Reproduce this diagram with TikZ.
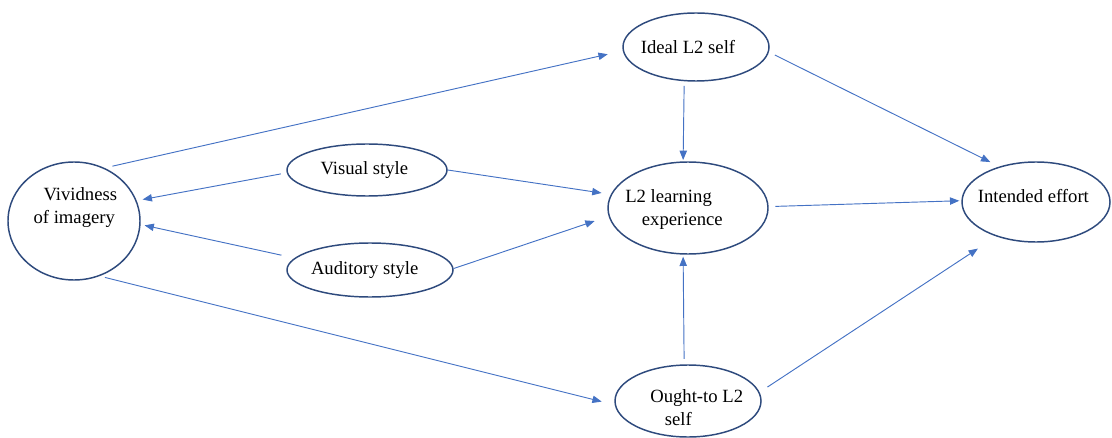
\documentclass[tikz,border=0pt]{standalone}
\usepackage{fontspec}
\setmainfont{Liberation Serif}
\usetikzlibrary{arrows.meta,shapes.geometric}
\definecolor{rim}{HTML}{2E4A7D}
\definecolor{wire}{HTML}{4472C4}
\tikzset{
  oval/.style={ellipse,draw=rim,line width=1.1pt,fill=white,inner sep=0pt},
  lbl/.style={font=\fontsize{14}{17}\selectfont,text=black,inner sep=0pt,align=left},
  ar/.style={-{Triangle[length=7pt,width=5.5pt]},draw=wire,line width=.7pt},
}
\begin{document}
\begin{tikzpicture}[x=0.75pt,y=-0.75pt]
\useasboundingbox (0,0) rectangle (1112,438);
\node[oval,minimum width=99pt,minimum height=88.5pt,label={[lbl,name=vivt,xshift=1pt,yshift=10pt]center:{\hspace*{7.5pt}Vividness\\of imagery}}] (viv) at (74,221) {};
\node[oval,minimum width=109.5pt,minimum height=51pt,label={[lbl,name=idealt,xshift=-6pt]center:{Ideal L2 self}}] (ideal) at (696,47) {};
\node[oval,minimum width=120pt,minimum height=69pt,label={[lbl,name=l2t,xshift=-10.5pt,yshift=-1pt]center:{L2 learning\\\hspace*{12.5pt}experience}}] (l2) at (688,208) {};
\node[oval,minimum width=111pt,minimum height=60pt,label={[lbl,name=efft,xshift=-2pt,yshift=4.5pt]center:{Intended effort}}] (eff) at (1036,202) {};
\node[oval,minimum width=109.5pt,minimum height=54pt,label={[lbl,name=oughtt,xshift=6.5pt,yshift=-5pt]center:{Ought-to L2\\\hspace*{11pt}self}}] (ought) at (688,401) {};
\node[oval,minimum width=120pt,minimum height=39pt,label={[lbl,name=vist,xshift=-2pt]center:{Visual style}}] (vis) at (367,170) {};
\node[oval,minimum width=124.5pt,minimum height=40.5pt,label={[lbl,name=audt,xshift=-4pt]center:{Auditory style}}] (aud) at (370,270) {};
\draw[ar,shorten <=6pt,shorten >=11.5pt] (viv.60) -- (ideal.183);
\draw[ar,shorten <=4.5pt,shorten >=4.5pt] (vis.182) -- (viv.18);
\draw[ar,shorten <=10pt,shorten >=3pt] (aud.171) -- (viv.-3);
\draw[ar,shorten <=4pt,shorten >=10pt] (viv.-65) -- (ought.183);
\draw[ar,shorten >=7pt] (vis.0) -- (l2.170);
\draw[ar,shorten >=11pt] (aud.1) -- (l2.186);
\draw[ar,shorten <=3.5pt,shorten >=1pt] (ideal.251) -- (l2.96);
\draw[ar,shorten <=4pt,shorten >=1.5pt] (ought.96) -- (l2.264);
\draw[ar,shorten <=5pt,shorten >=1.5pt] (l2.1) -- (eff.179);
\draw[ar,shorten <=5pt,shorten >=7.5pt] (ideal.-4) -- (eff.136);
\draw[ar,shorten <=7pt,shorten >=16.5pt] (ought.7) -- (eff.221);
\end{tikzpicture}
\end{document}
